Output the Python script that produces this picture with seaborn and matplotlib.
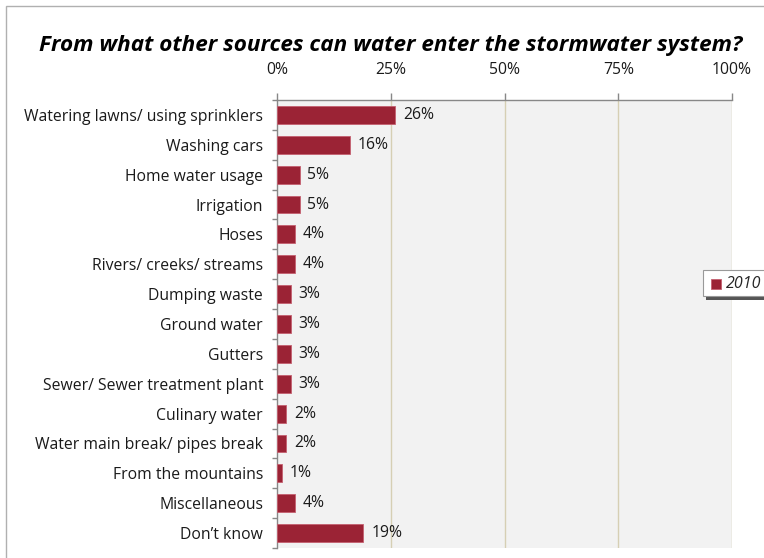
import matplotlib
matplotlib.use("Agg")
import matplotlib.pyplot as plt
import seaborn as sns
import pandas as pd
from matplotlib.patches import Rectangle

categories = ["Watering lawns/ using sprinklers", "Washing cars", "Home water usage",
              "Irrigation", "Hoses", "Rivers/ creeks/ streams", "Dumping waste",
              "Ground water", "Gutters", "Sewer/ Sewer treatment plant", "Culinary water",
              "Water main break/ pipes break", "From the mountains", "Miscellaneous",
              "Don\u2019t know"]
values = [26, 16, 5, 5, 4, 4, 3, 3, 3, 3, 2, 2, 1, 4, 19]
series_name = "2010"
xticks = [0, 25, 50, 75, 100]

df = pd.DataFrame({"source": categories, "pct": values, "year": series_name})

sns.set_theme(style="white")
plt.rcParams["font.family"] = ["Open Sans", "DejaVu Sans"]

fig = plt.figure(figsize=(7.64, 5.58), dpi=100)
ax = fig.add_axes([277/764, 1-548/558, 455/764, 448/558])
bar_color = "#9b2335"
sns.barplot(data=df, y="source", x="pct", hue="year", palette=[bar_color],
            orient="h", width=0.6, ax=ax, edgecolor="#c46070", linewidth=0.6,
            legend=False, zorder=3, saturation=1)
ax.set_facecolor("#f2f2f2")
ax.set_xlim(0, 100)
ax.set_ylim(len(categories) - 0.5, -0.5)
ax.xaxis.tick_top()
ax.set_xticks(xticks)
ax.set_xticklabels([f"{t}%" for t in xticks], fontsize=11.3, color="#1a1a1a")
ax.tick_params(axis="x", length=5, color="#888888", width=1, pad=11, top=True)
ax.set_yticks(range(len(categories)))
ax.set_yticks([i + 0.5 for i in range(-1, len(categories))], minor=True)
ax.tick_params(axis="y", which="major", length=0, labelsize=11.3, labelcolor="#1a1a1a", pad=10)
ax.tick_params(axis="y", which="minor", length=3.5, color="#888888", left=True)
for t in xticks[1:]:
    ax.axvline(t, color="#d6cfb4", lw=1, zorder=1)
ax.set_xlabel("")
ax.set_ylabel("")
for s in ["right", "bottom"]:
    ax.spines[s].set_visible(False)
for s in ["top", "left"]:
    ax.spines[s].set_color("#888888")
    ax.spines[s].set_linewidth(1)
for i, v in enumerate(values):
    ax.text(v + 1.7, i, f"{v}%", va="center", ha="left", fontsize=11.3, color="#1a1a1a", zorder=4)

fig.text(391/764, 1-45/558, "From what other sources can water enter the stormwater system?",
         ha="center", va="center", fontsize=16.2, fontweight="bold", fontstyle="italic", color="black")

# outer chart frame
fig.patches.append(Rectangle((6/764, -0.1), 1.2, (558-6)/558 + 0.1, transform=fig.transFigure,
                             fill=False, edgecolor="#b0b0b0", lw=1))

# legend box with shadow
lx, ly, lw_, lh = 703/764, 1-296/558, 70/764, 26/558
fig.patches.append(Rectangle((lx + 3/764, ly - 4/558), lw_, lh, transform=fig.transFigure,
                             facecolor="#555555", edgecolor="none", zorder=5))
fig.patches.append(Rectangle((lx, ly), lw_, lh, transform=fig.transFigure,
                             facecolor="white", edgecolor="#999999", lw=0.8, zorder=6))
fig.patches.append(Rectangle((711/764, 1-289/558), 10/764, 10/558, transform=fig.transFigure,
                             facecolor=bar_color, edgecolor="#c46070", lw=0.6, zorder=7))
fig.text(726/764, 1-284/558, series_name, fontsize=11.5, fontstyle="italic", va="center",
         ha="left", zorder=8)

fig.savefig("out.png", dpi=100)
